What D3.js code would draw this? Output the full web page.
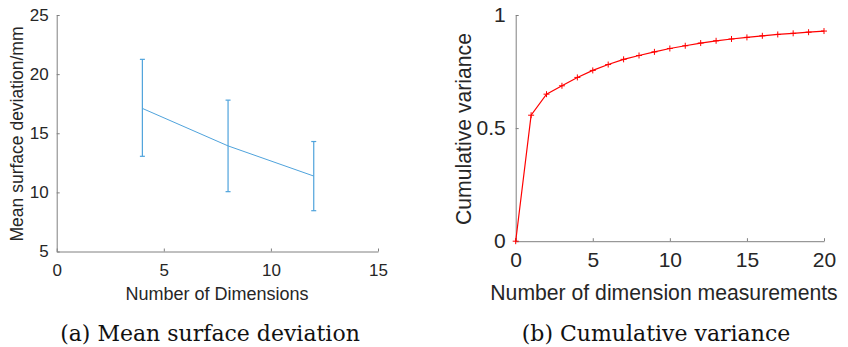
<!DOCTYPE html>
<html>
<head>
<meta charset="utf-8">
<script src="https://cdn.jsdelivr.net/npm/d3@7"></script>
<style>
  body { margin: 0; background: #fff; }
  svg { display: block; }
  .axis path, .axis line { stroke: #808080; }
  .axis text { fill: #262626; font-family: "Liberation Sans", Arial, sans-serif; }
</style>
</head>
<body>
<div class="graph"></div>
<script>
// (a) mean surface deviation vs number of dimensions
var dimCounts = [4, 8, 12];
var meanDev = [17.1, 13.93, 11.38];
var devUpper = [21.25, 17.8, 14.3];
var devLower = [13.05, 10.06, 8.45];
var leftXTicks = [0, 5, 10, 15];
var leftYTicks = [5, 10, 15, 20, 25];

// (b) cumulative variance vs number of dimension measurements
var measureCounts = [0, 1, 2, 3, 4, 5, 6, 7, 8, 9, 10, 11, 12, 13, 14, 15, 16, 17, 18, 19, 20];
var cumVariance = [0, 0.557, 0.650, 0.687, 0.724, 0.755, 0.781, 0.804, 0.821, 0.837, 0.852,
                   0.864, 0.876, 0.886, 0.894, 0.901, 0.908, 0.914, 0.919, 0.924, 0.929];
var rightXTicks = [0, 5, 10, 15, 20];
var rightYTicks = [0, 0.5, 1];

var captions = ["(a)  Mean surface deviation", "(b)  Cumulative variance"];

var svg = d3.select("div.graph").append("svg")
    .attr("width", 848)
    .attr("height", 347);

// LEFT CHART ----------------------------------------------------------
var xa = d3.scaleLinear().domain([0, 15]).range([56.7, 378]);
var ya = d3.scaleLinear().domain([5, 25]).range([251.5, 15]);

svg.append("g")
    .attr("class", "axis")
    .attr("transform", "translate(0,251.5)")
    .call(d3.axisBottom(xa).tickValues(leftXTicks).tickSizeInner(-3).tickSizeOuter(0).tickPadding(12))
    .call(function(g) { g.selectAll("text").style("font-size", "17px"); });

svg.append("g")
    .attr("class", "axis")
    .attr("transform", "translate(56.7,0)")
    .call(d3.axisLeft(ya).tickValues(leftYTicks).tickSizeInner(-3).tickSizeOuter(0).tickPadding(8))
    .call(function(g) { g.selectAll("text").style("font-size", "17px"); });

var blue = "#4fa3dc";

var leftLine = d3.line()
    .x(function(d, i) { return xa(dimCounts[i]); })
    .y(function(d) { return ya(d); });

svg.append("path")
    .datum(meanDev)
    .attr("fill", "none")
    .attr("stroke", blue)
    .attr("stroke-width", 1)
    .attr("d", leftLine);

var bars = svg.selectAll("g.errbar")
    .data(dimCounts)
    .enter().append("g")
    .attr("class", "errbar")
    .attr("stroke", blue)
    .attr("stroke-width", 1.2);

bars.append("line")
    .attr("x1", function(d) { return xa(d); })
    .attr("x2", function(d) { return xa(d); })
    .attr("y1", function(d, i) { return ya(devUpper[i]); })
    .attr("y2", function(d, i) { return ya(devLower[i]); });

bars.append("line")
    .attr("x1", function(d) { return xa(d) - 2.5; })
    .attr("x2", function(d) { return xa(d) + 2.5; })
    .attr("y1", function(d, i) { return ya(devUpper[i]); })
    .attr("y2", function(d, i) { return ya(devUpper[i]); });

bars.append("line")
    .attr("x1", function(d) { return xa(d) - 2.5; })
    .attr("x2", function(d) { return xa(d) + 2.5; })
    .attr("y1", function(d, i) { return ya(devLower[i]); })
    .attr("y2", function(d, i) { return ya(devLower[i]); });

svg.append("text")
    .attr("x", 217)
    .attr("y", 300)
    .style("text-anchor", "middle")
    .style("font-family", "Liberation Sans, Arial, sans-serif")
    .style("font-size", "18px")
    .attr("fill", "#262626")
    .text("Number of Dimensions");

svg.append("text")
    .attr("transform", "translate(23,134) rotate(-90)")
    .style("text-anchor", "middle")
    .style("font-family", "Liberation Sans, Arial, sans-serif")
    .style("font-size", "17.5px")
    .attr("fill", "#262626")
    .text("Mean surface deviation/mm");

// RIGHT CHART ---------------------------------------------------------
var xb = d3.scaleLinear().domain([0, 20]).range([515.7, 824]);
var yb = d3.scaleLinear().domain([0, 1]).range([241.2, 15]);

svg.append("g")
    .attr("class", "axis")
    .attr("transform", "translate(0,241.2)")
    .call(d3.axisBottom(xb).tickValues(rightXTicks).tickSizeInner(-3).tickSizeOuter(0).tickPadding(11))
    .call(function(g) { g.selectAll("text").style("font-size", "21px"); });

svg.append("g")
    .attr("class", "axis")
    .attr("transform", "translate(515.7,0)")
    .call(d3.axisLeft(yb).tickValues(rightYTicks).tickFormat(d3.format("")).tickSizeInner(-3).tickSizeOuter(0).tickPadding(10))
    .call(function(g) { g.selectAll("text").style("font-size", "21px"); });

var rightLine = d3.line()
    .x(function(d, i) { return xb(measureCounts[i]); })
    .y(function(d) { return yb(d); });

svg.append("path")
    .datum(cumVariance)
    .attr("fill", "none")
    .attr("stroke", "#ff0000")
    .attr("stroke-width", 1.2)
    .attr("d", rightLine);

// plus markers
svg.selectAll("path.plus")
    .data(cumVariance)
    .enter().append("path")
    .attr("class", "plus")
    .attr("fill", "none")
    .attr("stroke", "#ff0000")
    .attr("stroke-width", 1)
    .attr("d", function(d, i) {
      var cx = xb(measureCounts[i]), cy = yb(d);
      return "M" + (cx - 3) + "," + cy + "H" + (cx + 3) + "M" + cx + "," + (cy - 3) + "V" + (cy + 3);
    });

svg.append("text")
    .attr("x", 664)
    .attr("y", 300)
    .style("text-anchor", "middle")
    .style("font-family", "Liberation Sans, Arial, sans-serif")
    .style("font-size", "21.2px")
    .attr("fill", "#262626")
    .text("Number of dimension measurements");

svg.append("text")
    .attr("transform", "translate(471,129) rotate(-90)")
    .style("text-anchor", "middle")
    .style("font-family", "Liberation Sans, Arial, sans-serif")
    .style("font-size", "21.2px")
    .attr("fill", "#262626")
    .text("Cumulative variance");

// CAPTIONS ------------------------------------------------------------
svg.selectAll("text.caption")
    .data(captions)
    .enter().append("text")
    .attr("class", "caption")
    .attr("x", function(d, i) { return i === 0 ? 210 : 656; })
    .attr("y", 341)
    .style("text-anchor", "middle")
    .style("font-family", "DejaVu Serif, serif")
    .style("font-size", "22px")
    .attr("fill", "#111")
    .text(function(d) { return d; });
</script>
</body>
</html>
